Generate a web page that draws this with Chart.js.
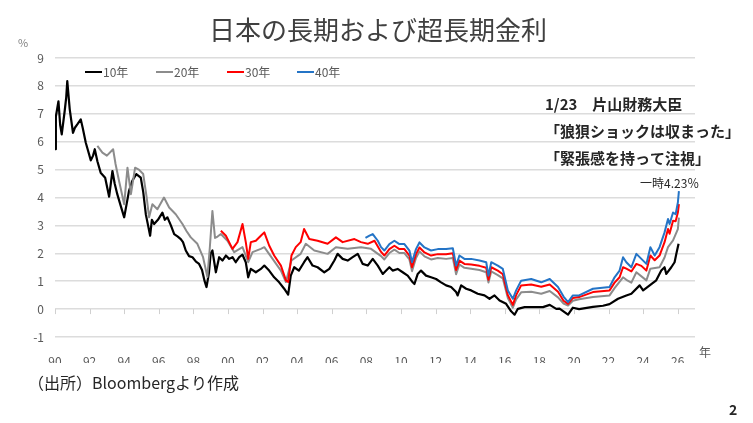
<!DOCTYPE html>
<html>
<head>
<meta charset="utf-8">
<script src="https://cdn.jsdelivr.net/npm/chart.js@4"></script>
<style>
  html, body { margin: 0; padding: 0; background: #fff; }
  canvas { display: block; }
</style>
</head>
<body>
<canvas id="g-kinri" width="753" height="423"></canvas>
<script>
// 年（小数）と利回り(%) — 図から読み取り
var t10 = [1990.00,1990.05,1990.20,1990.30,1990.39,1990.56,1990.65,1990.71,1990.85,1991.04,1991.15,1991.29,1991.49,1991.60,1991.78,1991.90,1992.07,1992.20,1992.30,1992.45,1992.64,1992.90,1993.13,1993.32,1993.45,1993.60,1993.80,1994.00,1994.15,1994.28,1994.47,1994.70,1994.96,1995.10,1995.25,1995.38,1995.50,1995.60,1995.73,1995.95,1996.21,1996.35,1996.50,1996.70,1996.89,1997.10,1997.27,1997.40,1997.56,1997.75,1997.95,1998.15,1998.33,1998.50,1998.65,1998.76,1998.90,1999.00,1999.10,1999.30,1999.49,1999.68,1999.88,2000.07,2000.26,2000.45,2000.65,2000.84,2001.03,2001.17,2001.32,2001.61,2001.90,2002.10,2002.38,2002.67,2002.96,2003.25,2003.48,2003.63,2003.83,2004.10,2004.40,2004.60,2004.89,2005.18,2005.57,2005.86,2006.15,2006.34,2006.63,2006.92,2007.21,2007.50,2007.79,2008.08,2008.37,2008.66,2008.95,2009.33,2009.52,2009.81,2010.10,2010.39,2010.68,2010.78,2010.97,2011.16,2011.45,2011.74,2012.03,2012.32,2012.61,2012.90,2013.19,2013.28,2013.48,2013.77,2014.06,2014.44,2014.83,2015.12,2015.41,2015.70,2016.08,2016.37,2016.57,2016.76,2017.15,2017.73,2018.21,2018.60,2018.98,2019.17,2019.66,2019.94,2020.30,2021.10,2021.68,2022.06,2022.55,2023.03,2023.32,2023.80,2024.00,2024.38,2024.76,2025.05,2025.24,2025.34,2025.63,2025.82,2025.92,2026.05];
var v10 = [5.73,6.90,7.45,6.60,6.26,7.10,7.60,8.17,7.17,6.32,6.50,6.62,6.80,6.50,5.96,5.70,5.33,5.50,5.73,5.30,4.89,4.71,4.03,4.95,4.50,4.12,3.70,3.29,3.80,4.24,4.60,4.84,4.71,4.20,3.40,3.00,2.63,3.20,3.05,3.20,3.46,3.20,3.29,3.00,2.69,2.60,2.51,2.40,2.10,1.90,1.86,1.70,1.62,1.40,1.00,0.79,1.30,2.00,2.10,1.32,1.86,1.74,1.92,1.80,1.86,1.68,1.86,1.95,1.68,1.14,1.44,1.32,1.44,1.56,1.38,1.14,0.96,0.73,0.52,1.20,1.50,1.38,1.68,1.86,1.56,1.50,1.32,1.44,1.74,1.98,1.80,1.74,1.86,1.98,1.62,1.56,1.80,1.56,1.26,1.50,1.38,1.44,1.32,1.20,0.96,0.90,1.26,1.38,1.20,1.14,1.08,0.96,0.85,0.79,0.61,0.49,0.85,0.73,0.67,0.55,0.49,0.37,0.49,0.31,0.19,-0.08,-0.20,0.01,0.07,0.07,0.07,0.15,0.01,0.02,-0.20,0.05,0.00,0.08,0.12,0.18,0.37,0.49,0.55,0.85,0.67,0.85,1.03,1.38,1.50,1.26,1.50,1.68,1.98,2.34];

var t20 = [1992.45,1992.74,1993.00,1993.36,1993.50,1993.70,1994.00,1994.19,1994.39,1994.63,1994.85,1995.10,1995.30,1995.44,1995.63,1995.92,1996.30,1996.60,1996.98,1997.37,1997.60,1997.85,1998.23,1998.56,1998.81,1998.95,1999.10,1999.25,1999.40,1999.59,1999.97,2000.36,2000.84,2001.17,2001.42,2001.90,2002.10,2002.58,2003.06,2003.35,2003.67,2004.20,2004.50,2004.99,2005.76,2006.24,2006.92,2007.69,2008.27,2008.85,2009.04,2009.33,2009.62,2009.91,2010.20,2010.49,2010.64,2010.87,2011.07,2011.36,2011.74,2012.13,2012.61,2013.00,2013.19,2013.38,2013.67,2014.06,2014.54,2014.93,2015.06,2015.22,2015.60,2015.89,2016.18,2016.47,2016.66,2016.95,2017.53,2018.11,2018.60,2019.08,2019.40,2019.66,2019.94,2020.30,2021.10,2022.06,2022.35,2022.84,2023.03,2023.32,2023.61,2024.19,2024.42,2024.95,2025.24,2025.44,2025.73,2026.01,2026.07];
var v20 = [5.85,5.61,5.50,5.73,5.20,4.60,3.76,5.07,4.12,5.07,5.00,4.84,4.00,3.29,3.76,3.58,4.00,3.64,3.40,3.05,2.80,2.57,2.34,1.86,1.15,2.20,3.52,2.55,2.60,2.69,2.45,2.04,2.22,1.68,2.04,2.16,2.22,1.80,1.38,0.97,1.74,1.98,2.34,2.10,1.98,2.22,2.16,2.22,2.16,1.90,1.78,2.01,2.13,2.01,2.01,1.78,1.36,1.83,2.07,1.89,1.78,1.83,1.80,1.83,1.25,1.60,1.48,1.45,1.40,1.32,0.95,1.35,1.22,1.10,0.40,0.05,0.35,0.60,0.62,0.55,0.65,0.42,0.20,0.13,0.30,0.35,0.43,0.49,0.75,1.14,1.05,0.95,1.32,1.03,1.45,1.50,1.85,2.22,2.46,2.87,3.28];

var t30 = [1999.59,1999.88,2000.26,2000.55,2000.84,2001.03,2001.17,2001.32,2001.61,2001.90,2002.10,2002.38,2002.67,2003.06,2003.35,2003.48,2003.67,2003.92,2004.20,2004.40,2004.70,2005.18,2005.76,2006.24,2006.63,2007.31,2007.69,2008.08,2008.47,2008.85,2009.04,2009.33,2009.62,2009.91,2010.20,2010.49,2010.64,2010.87,2011.07,2011.36,2011.74,2012.13,2012.61,2013.00,2013.19,2013.38,2013.67,2014.06,2014.54,2014.93,2015.06,2015.22,2015.60,2015.89,2016.18,2016.47,2016.66,2016.95,2017.53,2018.11,2018.60,2019.08,2019.40,2019.66,2019.94,2020.30,2021.10,2022.06,2022.35,2022.64,2022.84,2023.03,2023.32,2023.61,2023.90,2024.19,2024.42,2024.67,2024.95,2025.24,2025.44,2025.53,2025.73,2025.88,2026.01,2026.07];
var v30 = [2.81,2.63,2.16,2.40,3.05,2.40,1.80,2.40,2.45,2.63,2.75,2.28,1.92,1.56,1.03,0.97,1.92,2.22,2.40,2.87,2.51,2.45,2.34,2.57,2.40,2.51,2.40,2.34,2.45,2.05,1.92,2.15,2.27,2.15,2.15,1.92,1.50,1.97,2.21,2.03,1.92,1.97,1.97,2.00,1.40,1.74,1.62,1.60,1.55,1.48,1.05,1.50,1.38,1.25,0.50,0.15,0.50,0.85,0.88,0.80,0.88,0.62,0.30,0.19,0.40,0.43,0.61,0.67,0.95,1.14,1.50,1.45,1.35,1.62,1.55,1.38,1.92,1.75,1.92,2.40,2.87,2.70,3.17,3.15,3.46,3.76];

var t40 = [2007.95,2008.18,2008.37,2008.66,2008.85,2009.04,2009.33,2009.62,2009.91,2010.20,2010.49,2010.64,2010.87,2011.07,2011.36,2011.74,2012.13,2012.61,2013.00,2013.19,2013.38,2013.67,2014.06,2014.54,2014.93,2015.06,2015.22,2015.60,2015.89,2016.18,2016.47,2016.66,2016.95,2017.53,2018.11,2018.60,2019.08,2019.40,2019.66,2019.94,2020.30,2021.10,2022.06,2022.35,2022.64,2022.84,2023.03,2023.32,2023.61,2023.90,2024.19,2024.42,2024.67,2024.95,2025.24,2025.44,2025.53,2025.73,2025.88,2026.01,2026.07];
var v40 = [2.55,2.63,2.69,2.45,2.22,2.10,2.33,2.45,2.33,2.33,2.10,1.68,2.15,2.39,2.21,2.10,2.15,2.15,2.18,1.56,1.92,1.80,1.80,1.74,1.68,1.20,1.68,1.56,1.44,0.67,0.37,0.67,1.02,1.08,0.96,1.08,0.79,0.45,0.25,0.49,0.49,0.73,0.79,1.14,1.38,1.86,1.68,1.50,1.98,1.80,1.62,2.22,1.92,2.22,2.75,3.23,3.05,3.46,3.40,3.82,4.23];

var seriesNames = ['10年', '20年', '30年', '40年'];
var xTickYears = [1990,1992,1994,1996,1998,2000,2002,2004,2006,2008,2010,2012,2014,2016,2018,2020,2022,2024,2026];

var FONT = '"Noto Sans CJK JP", "Noto Sans", sans-serif';
var colors = ['#000000', '#8c8c8c', '#ff0000', '#2474c6'];

function pts(t, v) {
  return t.map(function (x, i) { return {x: x, y: v[i]}; });
}

var decor = {
  id: 'decor',
  afterDraw: function (chart) {
    var ctx = chart.ctx;
    var xs = chart.scales.x, ys = chart.scales.y;
    ctx.save();

    // タイトル
    ctx.fillStyle = '#404040';
    ctx.font = '26px ' + FONT;
    ctx.textAlign = 'center';
    ctx.textBaseline = 'middle';
    ctx.fillText('日本の長期および超長期金利', 378, 30);

    // 単位
    ctx.fillStyle = '#7f7f7f';
    ctx.font = '11px ' + FONT;
    ctx.textAlign = 'left';
    ctx.fillText('%', 18, 43);
    ctx.fillStyle = '#595959';
    ctx.font = '12px ' + FONT;
    ctx.fillText('年', 699, 352);

    // 0 の線の目盛り
    var y0 = ys.getPixelForValue(0);
    ctx.strokeStyle = '#d0d0d0';
    ctx.lineWidth = 1;
    xTickYears.forEach(function (yr) {
      var px = Math.round(xs.getPixelForValue(yr)) + 0.5;
      ctx.beginPath();
      ctx.moveTo(px, y0);
      ctx.lineTo(px, y0 + 5);
      ctx.stroke();
    });

    // 凡例
    var lx = [85, 156, 227, 297];
    ctx.font = '12px ' + FONT;
    seriesNames.forEach(function (name, i) {
      ctx.strokeStyle = colors[i];
      ctx.lineWidth = 2;
      ctx.beginPath();
      ctx.moveTo(lx[i], 72);
      ctx.lineTo(lx[i] + 17, 72);
      ctx.stroke();
      ctx.fillStyle = '#595959';
      ctx.fillText(name, lx[i] + 18, 72);
    });

    // 注記
    ctx.fillStyle = '#262626';
    ctx.font = 'bold 15px ' + FONT;
    ctx.fillText('1/23　片山財務大臣', 545, 104);
    ctx.fillText('「狼狽ショックは収まった」', 545, 131);
    ctx.fillText('「緊張感を持って注視」', 545, 158);
    ctx.font = '12px ' + FONT;
    ctx.fillText('一時4.23％', 640, 183);

    // 出所
    ctx.font = '16px ' + FONT;
    ctx.fillText('（出所）Bloombergより作成', 28, 383);
    ctx.font = 'bold 14px ' + FONT;
    ctx.fillText('2', 729, 410);

    ctx.restore();
  }
};

var ctx1 = document.getElementById('g-kinri');
var myChart1 = new Chart(ctx1, {
  type: 'line',
  data: {
    datasets: [
      {label: seriesNames[0], data: pts(t10, v10), borderColor: colors[0], borderWidth: 2.2, order: 4},
      {label: seriesNames[1], data: pts(t20, v20), borderColor: colors[1], borderWidth: 2, order: 3},
      {label: seriesNames[2], data: pts(t30, v30), borderColor: colors[2], borderWidth: 2, order: 2},
      {label: seriesNames[3], data: pts(t40, v40), borderColor: colors[3], borderWidth: 2, order: 1}
    ]
  },
  options: {
    responsive: false,
    animation: false,
    elements: {point: {radius: 0}, line: {tension: 0, fill: false, borderJoinStyle: 'round'}},
    layout: {padding: {left: 0, right: 58, top: 58, bottom: 60}},
    plugins: {legend: {display: false}, tooltip: {enabled: false}, title: {display: false}},
    scales: {
      x: {
        type: 'linear',
        min: 1990,
        max: 2027,
        grid: {display: false},
        border: {display: false},
        afterBuildTicks: function (scale) {
          scale.ticks = xTickYears.map(function (v) { return {value: v}; });
        },
        afterFit: function (scale) { scale.height = 26; },
        ticks: {
          color: '#595959',
          font: {family: FONT, size: 12},
          padding: 9,
          maxRotation: 0,
          autoSkip: false,
          callback: function (v) { return String(v % 100).padStart(2, '0'); }
        }
      },
      y: {
        min: -1,
        max: 9,
        grid: {color: '#dcdcdc', lineWidth: 1.5, drawTicks: false},
        border: {display: false},
        afterFit: function (scale) { scale.width = 55; },
        ticks: {
          stepSize: 1,
          color: '#595959',
          font: {family: FONT, size: 12},
          padding: 11
        }
      }
    }
  },
  plugins: [decor]
});
</script>
</body>
</html>
